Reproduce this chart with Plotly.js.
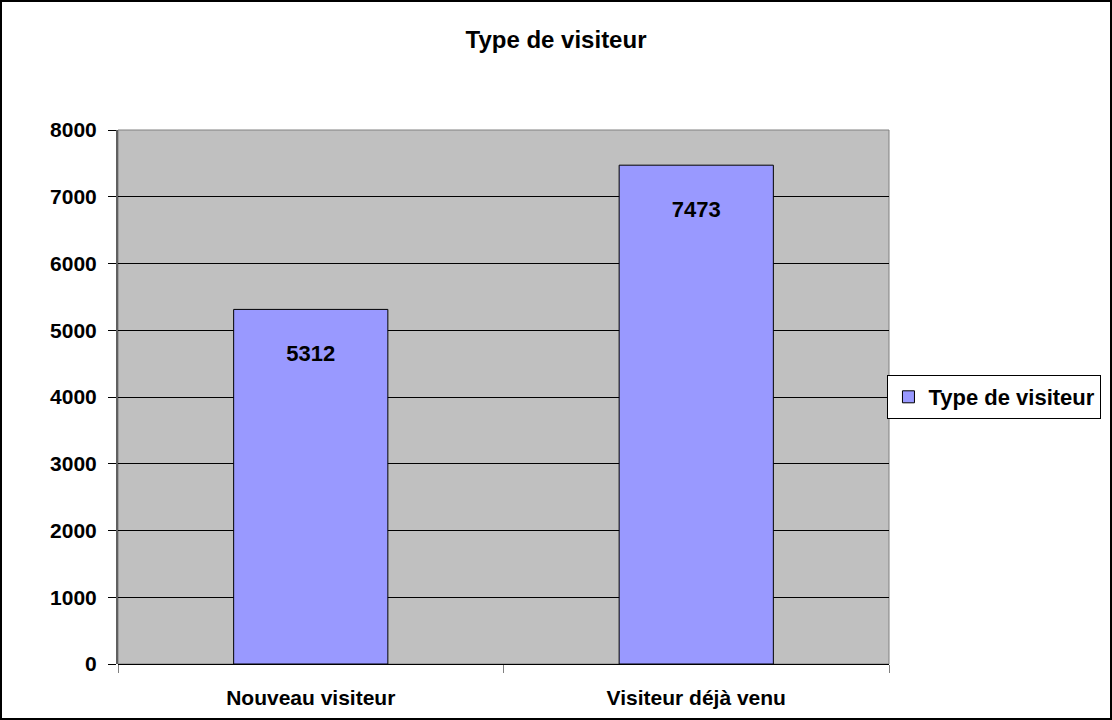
<!DOCTYPE html>
<html><head><meta charset="utf-8">
<script src="https://cdn.plot.ly/plotly-3.0.1.min.js"></script>
<style>
html,body{margin:0;padding:0;background:#fff;}
#chart{width:1108px;height:716px;border:2px solid #000;}
</style></head>
<body><div id="chart"></div>
<script>
const categories = ["Nouveau visiteur", "Visiteur déjà venu"];
const values = [5312, 7473];
const seriesName = "Type de visiteur";
const chartTitle = "Type de visiteur";
const yTicks = [0, 1000, 2000, 3000, 4000, 5000, 6000, 7000, 8000];

const F = "Liberation Sans, Arial, sans-serif";

const trace = {
  type: "bar",
  x: categories,
  y: values,
  name: seriesName,
  width: 0.4,
  marker: {color: "#9999FF", line: {color: "#000000", width: 1}},
  texttemplate: "\u00a0<br>%{y}",
  textposition: "inside",
  insidetextanchor: "end",
  textangle: 0,
  textfont: {family: F, size: 22, weight: "bold", color: "#000"},
  showlegend: true,
  hoverinfo: "x+y"
};

const layout = {
  width: 1108, height: 716,
  margin: {l: 116, r: 221, t: 128, b: 54, autoexpand: false},
  paper_bgcolor: "#ffffff",
  plot_bgcolor: "#C0C0C0",
  title: {text: chartTitle, font: {family: F, size: 24, weight: "bold", color: "#000"},
          x: 0.5, xref: "container", xanchor: "center", y: 1 - 38/716, yanchor: "middle"},
  xaxis: {
    type: "category",
    tickson: "boundaries",
    ticks: "outside", ticklen: 8, tickcolor: "#808080", tickwidth: 1,
    showgrid: false, showline: false, zeroline: false,
    tickfont: {family: F, size: 21, weight: "bold", color: "#000"},
    ticklabelstandoff: 19
  },
  yaxis: {
    range: [0, 8000],
    tickvals: yTicks,
    ticks: "outside", ticklen: 8, tickcolor: "#000", tickwidth: 1,
    showgrid: true, gridcolor: "#000", gridwidth: 1,
    zeroline: true, zerolinecolor: "#000", zerolinewidth: 1,
    showline: true, linecolor: "#606060", linewidth: 2,
    tickfont: {family: F, size: 21, weight: "bold", color: "#000"},
    ticklabelstandoff: 7
  },
  legend: {
    x: 0.998, xanchor: "left", y: 0.5, yanchor: "middle",
    bgcolor: "#fff", bordercolor: "#000", borderwidth: 1,
    font: {family: F, size: 22, weight: "bold", color: "#000"},
    itemwidth: 30
  },
  shapes: [{
    type: "rect", xref: "paper", yref: "paper", x0: 0, x1: 1, y0: 0, y1: 1,
    line: {color: "#808080", width: 1}, layer: "below", fillcolor: "rgba(0,0,0,0)"
  }],
  bargap: 0.6
};

Plotly.newPlot("chart", [trace], layout, {displayModeBar: false, staticPlot: true});
</script></body></html>
